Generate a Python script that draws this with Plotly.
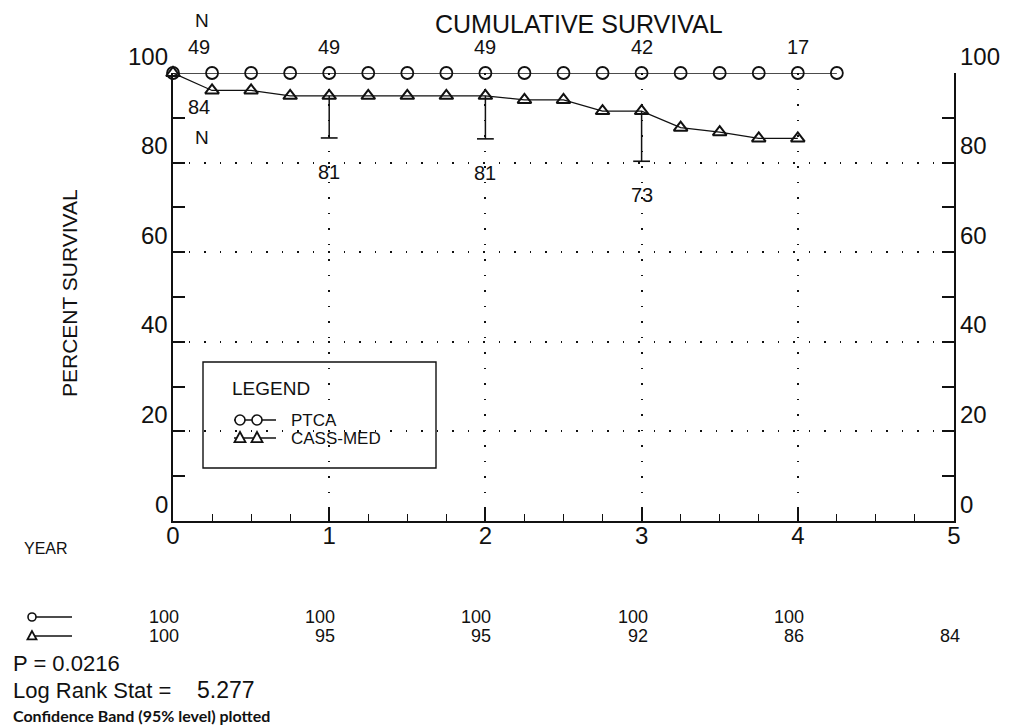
import plotly.graph_objects as go

# ---------------- data ----------------
ptca_years = [0, 0.25, 0.5, 0.75, 1, 1.25, 1.5, 1.75, 2, 2.25, 2.5, 2.75, 3, 3.25, 3.5, 3.75, 4, 4.25]
ptca_surv = [100, 100, 100, 100, 100, 100, 100, 100, 100, 100, 100, 100, 100, 100, 100, 100, 100, 100]
cass_years = [0, 0.25, 0.5, 0.75, 1, 1.25, 1.5, 1.75, 2, 2.25, 2.5, 2.75, 3, 3.25, 3.5, 3.75, 4]
cass_surv = [100, 96.1, 96.1, 94.9, 94.9, 94.9, 94.9, 94.9, 94.9, 94.0, 94.0, 91.5, 91.5, 87.8, 86.8, 85.4, 85.4]
ci_years = [1, 2, 3]
ci_lower = [85.5, 85.3, 80.3]
n_years_ptca = [0, 1, 2, 3, 4]
n_ptca = [49, 49, 49, 42, 17]
n_years_cass = [0, 1, 2, 3]
n_cass = [84, 81, 81, 73]
table_years = [0, 1, 2, 3, 4, 5]
table_ptca = ["100", "100", "100", "100", "100", ""]
table_cass = ["100", "95", "95", "92", "86", "84"]
y_tick_labels = [0, 20, 40, 60, 80, 100]
p_value = "0.0216"
log_rank = "5.277"
series_names = ["PTCA", "CASS-MED"]

# ---------------- layout geometry ----------------
W, H = 1012, 725
L, T = 165, 65
PW, PH = 781, 448
R, B = W - L - PW, H - T - PH
FONT = "Liberation Sans"
INK = "#111111"


def px(x):
    return (x - L) / PW


def py(y):
    return (T + PH - y) / PH


fig = go.Figure()

# main data traces
fig.add_trace(go.Scatter(
    x=ptca_years, y=ptca_surv, mode="lines+markers", name=series_names[0],
    line=dict(color=INK, width=1.3),
    marker=dict(symbol="circle-open", size=12, color=INK, line=dict(width=1.8, color=INK)),
    cliponaxis=False, showlegend=False))

cass_lookup = dict(zip(cass_years, cass_surv))
ci_pts = [cass_lookup[yr] for yr in ci_years]
fig.add_trace(go.Scatter(
    x=ci_years, y=ci_pts, mode="lines", line=dict(width=0), showlegend=False,
    error_y=dict(type="data", symmetric=False, array=[0] * len(ci_years),
                 arrayminus=[p - lo for p, lo in zip(ci_pts, ci_lower)],
                 width=0, thickness=1.5, color=INK),
    cliponaxis=False))
fig.add_trace(go.Scatter(
    x=ci_years, y=ci_lower, mode="markers", showlegend=False,
    marker=dict(symbol="line-ew-open", size=12, color=INK, line=dict(width=1.6, color=INK)),
    cliponaxis=False))

fig.add_trace(go.Scatter(
    x=cass_years, y=cass_surv, mode="lines+markers", name=series_names[1],
    line=dict(color=INK, width=1.3),
    marker=dict(symbol="triangle-up-open", size=12, color=INK, line=dict(width=2, color=INK)),
    cliponaxis=False, showlegend=False))

# dummy trace for the right-hand axis
fig.add_trace(go.Scatter(x=ptca_years, y=ptca_surv, yaxis="y2", mode="none",
                         showlegend=False, hoverinfo="skip"))

shapes = []


def seg(x0, x1, y):
    shapes.append(dict(type="line", xref="paper", yref="paper", x0=px(x0), x1=px(x1),
                       y0=py(y), y1=py(y), line=dict(color=INK, width=1.4)))


def circ(cx, cy, r=5):
    shapes.append(dict(type="circle", xref="paper", yref="paper", x0=px(cx - r), x1=px(cx + r),
                       y0=py(cy + r), y1=py(cy - r), line=dict(color=INK, width=1.6),
                       fillcolor="white"))


def tri(cx, cy, s=5.5):
    pts = [(cx, cy - s * 1.1), (cx - s, cy + s * 0.75), (cx + s, cy + s * 0.75)]
    path = "M " + " L ".join(f"{px(a):.5f},{py(b):.5f}" for a, b in pts) + " Z"
    shapes.append(dict(type="path", xref="paper", yref="paper", path=path,
                       line=dict(color=INK, width=1.8), fillcolor="white"))


# legend box
shapes.append(dict(type="rect", xref="paper", yref="paper", x0=px(195), x1=px(428),
                   y0=py(460), y1=py(354), line=dict(color=INK, width=1.4),
                   fillcolor="white", layer="below"))

# legend glyphs
seg(226, 268, 412)
circ(232, 412)
circ(249, 412)
seg(226, 268, 430)
tri(232, 430)
tri(249, 430)
# table glyphs
seg(22, 64, 609)
circ(24, 609, 4)
seg(22, 64, 628)
tri(24, 628, 4.5)

ann = []


def text(t, x, y, size=20, xanchor="center", yanchor="middle", xref="paper", yref="paper",
         family=FONT, angle=0, xshift=0, yshift=0):
    ann.append(dict(text=t, x=x, y=y, xref=xref, yref=yref, showarrow=False,
                    xanchor=xanchor, yanchor=yanchor, textangle=angle,
                    xshift=xshift, yshift=yshift,
                    font=dict(family=family, size=size, color=INK)))


text("CUMULATIVE SURVIVAL", px(571), py(0), size=25, yanchor="top")
text("PERCENT SURVIVAL", px(61), py(285), size=21, angle=-90)
text("N", px(194), py(0), size=19, yanchor="top")
text("N", px(194), py(129), size=19)

for v in y_tick_labels:
    text(str(v), 0, v, size=24, xanchor="right", yref="y", xshift=-3, yshift=17)
    text(str(v), 1, v, size=24, xanchor="left", yref="y", xshift=4, yshift=17)

# numbers at risk
for yr, n in zip(n_years_ptca, n_ptca):
    text(str(n), yr, 100, size=20, xref="x", yref="y", yshift=26,
         xshift=26 if yr == 0 else 0)
ci_lookup = dict(zip(ci_years, ci_lower))
for yr, n in zip(n_years_cass, n_cass):
    anchor = ci_lookup.get(yr, cass_lookup[yr])
    text(str(n), yr, anchor, size=20, xref="x", yref="y", yshift=-34,
         xshift=26 if yr == 0 else 0)

# legend text
text("LEGEND", px(222), py(380), size=19, xanchor="left")
text(series_names[0], px(281), py(412), size=17, xanchor="left")
text(series_names[1], px(281), py(430), size=17, xanchor="left")

# table
text("YEAR", px(38), py(540), size=16)
for yr, a, b in zip(table_years, table_ptca, table_cass):
    if a:
        text(a, yr, py(609), size=18, xref="x", xanchor="right", xshift=8)
    text(b, yr, py(628), size=18, xref="x", xanchor="right", xshift=8)

text("P = " + p_value, px(3), py(655), size=22, xanchor="left")
text("Log Rank Stat =", px(3), py(682), size=22, xanchor="left")
text(log_rank, px(187), py(682), size=23, xanchor="left")
text("<b>Confidence Band (95% level) plotted</b>", px(3), py(707), size=16,
     xanchor="left", family="Lato")

axis_common = dict(showline=True, linecolor=INK, linewidth=1.6, zeroline=False,
                   ticks="inside", tickcolor=INK, tickwidth=1.5)
fig.update_layout(
    width=W, height=H,
    margin=dict(l=L, r=R, t=T, b=B, pad=0),
    paper_bgcolor="white", plot_bgcolor="white",
    font=dict(family=FONT, color=INK),
    showlegend=False,
    xaxis=dict(range=[0, 5], dtick=1, ticklen=12, **axis_common,
               showgrid=True, gridcolor=INK, gridwidth=1.5, griddash="1.5px,14px",
               tickfont=dict(size=24, family=FONT, color=INK), ticklabelstandoff=-8,
               minor=dict(dtick=0.25, ticks="inside", ticklen=7, tickwidth=1.3,
                          tickcolor=INK, showgrid=False)),
    yaxis=dict(range=[0, 100], dtick=20, ticklen=12, **axis_common,
               showticklabels=False,
               showgrid=True, gridcolor=INK, gridwidth=1.5, griddash="1.5px,14px",
               minor=dict(dtick=10, ticks="inside", ticklen=12, tickwidth=1.5,
                          tickcolor=INK, showgrid=False)),
    yaxis2=dict(range=[0, 100], dtick=10, ticklen=12, overlaying="y", side="right",
                showgrid=False, showticklabels=False, **axis_common),
    annotations=ann,
    shapes=shapes,
)

fig.write_html("out.html")
